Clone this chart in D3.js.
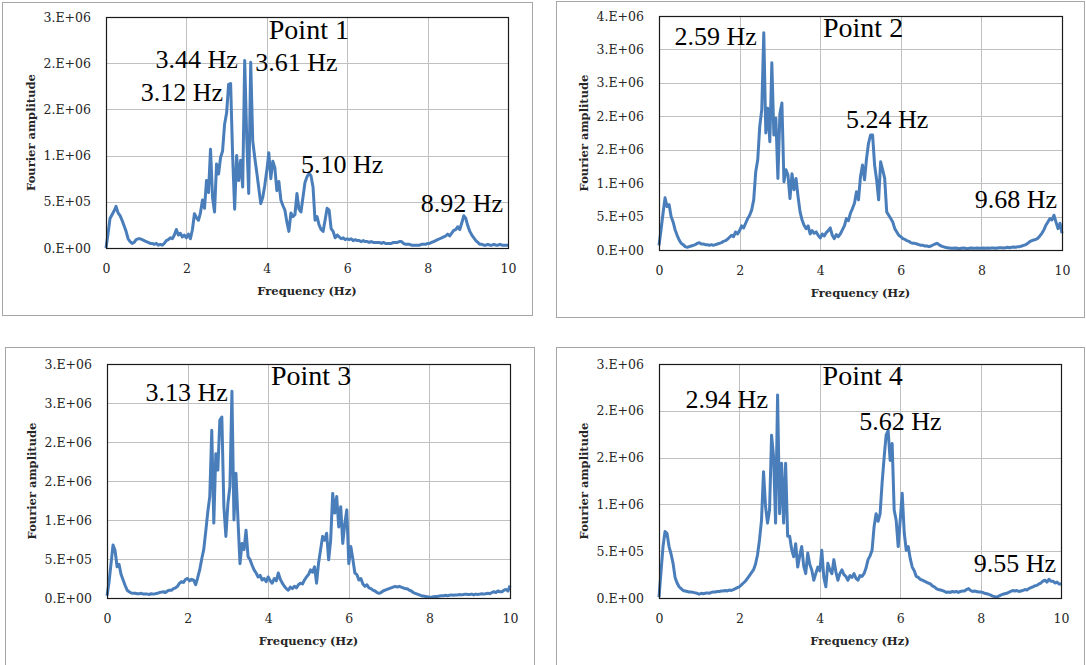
<!DOCTYPE html>
<html><head><meta charset="utf-8">
<script src="https://cdn.jsdelivr.net/npm/d3@7"></script>
<style>
body{margin:0;background:#fff;} svg{display:block}
.tk{font-family:"DejaVu Serif","Liberation Serif",serif;}
.tt{font-family:"DejaVu Serif","Liberation Serif",serif;font-weight:bold;}
.an{font-family:"Liberation Serif","Times New Roman",Tinos,"DejaVu Serif",serif;}
</style>
</head><body><svg id="c" width="1086" height="665"></svg>
<script>
// ---------- DATA ----------
const FREQ_STEP = 0.05;           // Hz between samples (0 .. 10 Hz, 201 samples)
const AMP_UNIT = 1e5;             // amplitudes below are in units of 1e5
const xTicks = [0, 2, 4, 6, 8, 10];
const xTickLabels = ["0", "2", "4", "6", "8", "10"];

const amp1 = [
 0,1.5,3.2,3.6,4.0,4.5,3.8,3.5,3.0,2.4, 1.8,1.0,0.7,0.5,0.6,0.9,1.0,1.0,0.9,0.8,
 0.7,0.6,0.5,0.5,0.4,0.5,0.3,0.4,0.3,0.5, 0.8,0.9,1.1,1.0,1.4,2.0,1.4,1.6,1.2,1.4,
 1.1,1.5,1.0,2.0,3.7,3.3,3.0,3.8,5.2,4.3, 7.3,6.0,10.7,5.5,3.9,9.1,8.0,9.8,10.5,13.4,
 14.6,17.7,17.8,10.0,4.2,10.0,7.3,9.5,6.6,20.3, 12.0,5.9,20.1,11.6,9.8,8.2,6.5,4.8,5.5,6.8,
 8.4,10.3,7.5,9.4,8.7,6.2,7.2,5.2,4.6,4.1, 2.8,1.8,3.8,3.4,3.6,5.9,4.2,3.9,5.5,7.1,
 7.7,8.1,7.8,6.6,3.0,3.4,2.5,2.0,1.8,3.0, 4.3,4.1,2.1,1.8,1.1,1.4,1.2,1.0,1.1,0.9,
 1.0,0.9,1.0,0.8,0.9,0.8,0.8,0.7,0.8,0.7, 0.7,0.6,0.7,0.6,0.6,0.6,0.6,0.5,0.6,0.5,
 0.5,0.5,0.5,0.6,0.6,0.6,0.7,0.7,0.5,0.4, 0.4,0.4,0.3,0.3,0.3,0.3,0.3,0.4,0.4,0.4,
 0.5,0.5,0.6,0.7,0.8,0.9,1.0,1.1,1.2,1.3, 1.5,1.3,1.6,1.9,2.0,2.3,2.0,2.7,3.5,3.2,
 2.4,1.8,1.4,1.1,0.8,0.6,0.4,0.4,0.3,0.3, 0.4,0.3,0.3,0.4,0.3,0.3,0.4,0.3,0.3,0.3,
 0.3];

const amp2 = [
 0.7,3.0,5.5,7.8,6.5,6.8,5.0,4.2,3.0,2.2, 1.5,1.0,0.8,0.5,0.4,0.5,0.6,0.7,0.8,1.0,
 1.1,0.9,0.9,0.8,0.8,0.7,0.8,0.7,0.8,0.9, 1.0,1.1,1.3,1.4,1.6,1.9,2.2,2.0,2.7,2.4,
 2.9,3.6,3.3,4.0,4.7,5.2,6.0,7.5,11.7,13.5, 18.5,21.0,32.5,17.5,21.2,16.2,28.0,17.2,19.7,10.7,
 20.4,22.0,10.2,12.0,11.2,7.7,11.4,9.0,10.7,8.0, 5.7,4.5,3.7,3.2,3.6,2.4,2.9,2.5,2.7,2.2,
 1.8,2.4,2.1,2.6,2.9,3.3,2.2,1.7,2.3,2.0, 2.4,3.0,3.6,4.7,4.4,5.5,6.2,7.0,8.7,7.5,
 11.0,12.7,10.5,13.7,16.0,17.2,17.2,12.7,10.5,7.5, 13.2,12.0,10.7,5.7,5.2,4.7,4.2,3.2,2.7,2.2,
 2.0,1.7,1.6,1.4,1.3,1.1,1.0,1.0,0.9,0.8, 0.7,0.7,0.6,0.6,0.5,0.6,0.75,0.9,1.0,0.8,
 0.6,0.5,0.4,0.35,0.3,0.25,0.25,0.3,0.25,0.2, 0.25,0.3,0.25,0.2,0.25,0.3,0.25,0.25,0.3,0.25,
 0.25,0.3,0.25,0.3,0.25,0.3,0.3,0.25,0.3,0.35, 0.35,0.3,0.35,0.4,0.35,0.4,0.45,0.4,0.5,0.5,
 0.6,0.7,0.8,1.0,1.25,1.4,1.5,1.6,1.75,2.1, 2.5,3.0,3.7,4.2,4.7,4.5,5.2,4.2,3.2,4.0,
 2.5];

const amp3 = [
 0.3,2.0,4.4,6.8,6.1,4.0,4.3,3.0,2.3,1.6, 1.0,0.8,0.65,0.6,0.6,0.55,0.55,0.6,0.5,0.5,
 0.5,0.45,0.55,0.5,0.55,0.6,0.7,0.75,0.8,0.7, 0.9,1.0,1.0,1.2,1.3,1.5,1.9,2.1,2.0,2.4,
 2.5,2.2,2.4,2.3,1.7,2.6,3.6,5.0,6.2,8.5, 11.0,13.0,21.5,9.6,18.5,16.4,22.8,23.2,11.7,7.9,
 12.1,14.3,26.5,10.0,16.0,10.0,4.4,7.0,6.2,8.7, 5.3,4.9,4.2,3.6,3.2,2.7,2.9,2.3,2.5,2.1,
 2.7,2.2,1.9,2.5,2.2,3.2,2.4,1.9,1.5,1.2, 1.0,1.4,1.2,1.5,1.3,1.7,1.9,1.8,2.3,2.7,
 3.0,3.6,3.3,4.0,1.9,4.5,6.2,7.9,7.4,8.3, 4.9,7.4,13.4,10.9,13.0,9.1,11.7,7.0,9.5,11.3,
 4.4,6.6,5.0,3.2,3.0,2.3,2.5,1.8,1.5,1.7, 1.3,1.2,1.0,0.9,0.7,0.6,0.7,0.9,1.0,1.1,
 1.2,1.3,1.4,1.5,1.4,1.5,1.4,1.3,1.2,1.2, 1.0,0.9,0.7,0.6,0.5,0.4,0.3,0.25,0.2,0.15,
 0.1,0.1,0.15,0.2,0.2,0.25,0.3,0.3,0.35,0.3, 0.35,0.4,0.35,0.4,0.4,0.45,0.4,0.45,0.5,0.45,
 0.45,0.5,0.4,0.5,0.45,0.5,0.55,0.5,0.55,0.6, 0.55,0.7,0.8,0.7,0.9,0.8,0.8,1.0,1.1,0.9,
 1.6];

const amp4 = [
 0.1,2.8,5.5,7.1,6.9,5.5,4.7,3.7,2.2,1.6, 1.2,1.0,0.8,0.75,0.7,0.65,0.65,0.6,0.55,0.5,
 0.4,0.5,0.45,0.5,0.55,0.5,0.6,0.65,0.65,0.7, 0.7,0.75,0.75,0.8,0.75,0.85,0.8,0.9,1.0,1.1,
 1.2,1.4,1.6,1.8,2.1,2.4,2.7,3.0,3.6,4.6, 6.2,8.3,13.5,9.8,8.0,9.4,17.4,15.1,8.0,21.7,
 9.0,14.4,8.0,14.4,6.6,6.6,5.2,4.4,5.8,3.3, 4.5,5.5,3.4,2.6,4.8,3.6,3.0,1.9,2.6,3.3,
 2.9,5.1,2.2,1.2,3.7,3.0,2.6,4.1,2.8,1.9, 2.6,3.0,2.5,2.3,1.9,2.4,2.2,2.6,2.1,1.9,
 2.4,2.3,2.6,3.2,4.1,4.5,5.1,7.6,9.0,8.2, 9.0,12.3,15.0,17.4,17.9,14.7,16.5,9.4,8.3,5.5,
 8.3,11.2,7.0,5.1,5.5,4.2,3.3,2.9,2.3,2.2, 2.0,1.9,1.8,1.7,1.6,1.5,1.3,1.2,1.0,0.9,
 0.85,0.8,0.7,0.6,0.65,0.6,0.7,0.65,0.7,0.6, 0.7,0.75,0.75,0.9,1.0,0.8,0.7,0.75,0.7,0.65,
 0.65,0.6,0.5,0.45,0.4,0.3,0.2,0.15,0.1,0.2, 0.3,0.4,0.45,0.5,0.6,0.7,0.8,0.75,0.8,0.7,
 0.75,0.8,0.9,0.85,1.0,1.1,1.2,1.3,1.35,1.5, 1.6,1.8,1.9,1.7,2.0,1.8,1.8,1.6,1.7,1.5,
 1.5];

const yTicks25 = [0, 5e5, 1e6, 1.5e6, 2e6, 2.5e6];
const yLabels25 = ["0.E+00","5.E+05","1.E+06","2.E+06","2.E+06","3.E+06"];
const yTicks35 = [0, 5e5, 1e6, 1.5e6, 2e6, 2.5e6, 3e6, 3.5e6];
const yLabels35 = ["0.E+00","5.E+05","1.E+06","2.E+06","2.E+06","3.E+06","3.E+06","4.E+06"];
const yTicks30 = [0, 5e5, 1e6, 1.5e6, 2e6, 2.5e6, 3e6];
const yLabels30 = ["0.E+00","5.E+05","1.E+06","2.E+06","2.E+06","3.E+06","3.E+06"];

const pointNames = ["Point 1", "Point 2", "Point 3", "Point 4"];
const peakTexts1 = ["3.44 Hz", "3.61 Hz", "3.12 Hz", "5.10 Hz", "8.92 Hz"];
const peakTexts2 = ["2.59 Hz", "5.24 Hz", "9.68 Hz"];
const peakTexts3 = ["3.13 Hz"];
const peakTexts4 = ["2.94 Hz", "5.62 Hz", "9.55 Hz"];
const xTitle = "Frequency (Hz)";
const yTitle = "Fourier amplitude";

// ---------- LAYOUT (positions / sizes, kept apart from data) ----------
const panels = [
  { frame:[2,2,532,315],   plot:[106,17,508,248],  amps:amp1, yTicks:yTicks25, yLabels:yLabels25, name:pointNames[0],
    namePos:[4.05,2.26e6],
    peaks:[[peakTexts1[0],3.28,1.95e6,"end"],[peakTexts1[1],3.71,1.92e6,"start"],[peakTexts1[2],2.91,1.59e6,"end"],
           [peakTexts1[3],4.85,0.81e6,"start"],[peakTexts1[4],9.88,0.39e6,"end"]] },
  { frame:[556,1,1084,317], plot:[659,16,1062,250], amps:amp2, yTicks:yTicks35, yLabels:yLabels35, name:pointNames[1],
    namePos:[4.07,3.18e6],
    peaks:[[peakTexts2[0],2.43,3.06e6,"end"],[peakTexts2[1],4.64,1.82e6,"start"],[peakTexts2[2],9.88,0.63e6,"end"]] },
  { frame:[5,347,534,700], plot:[107,364,510,598], amps:amp3, yTicks:yTicks30, yLabels:yLabels30, name:pointNames[2],
    namePos:[4.07,2.73e6],
    peaks:[[peakTexts3[0],3.0,2.53e6,"end"]] },
  { frame:[556,347,1084,700], plot:[659,364,1061,598], amps:amp4, yTicks:yTicks25, yLabels:yLabels25, name:pointNames[3],
    namePos:[4.07,2.28e6],
    peaks:[[peakTexts4[0],2.71,2.03e6,"end"],[peakTexts4[1],4.98,1.79e6,"start"],[peakTexts4[2],9.88,0.28e6,"end"]] }
];

const svg = d3.select("#c");

panels.forEach(p => {
  const [fx0, fy0, fx1, fy1] = p.frame;
  const [l, t, r, b] = p.plot;
  const yMax = p.yTicks[p.yTicks.length - 1];
  const x = d3.scaleLinear().domain([0, 10]).range([l, r]);
  const y = d3.scaleLinear().domain([0, yMax]).range([b, t]);
  const g = svg.append("g");

  g.append("rect").attr("x", fx0 + 0.5).attr("y", fy0 + 0.5)
    .attr("width", fx1 - fx0).attr("height", fy1 - fy0)
    .attr("fill", "#fff").attr("stroke", "#a6a6a6").attr("stroke-width", 1);

  // grid
  g.append("g").selectAll("line").data(p.yTicks.slice(1, -1)).join("line")
    .attr("x1", l).attr("x2", r).attr("y1", d => Math.round(y(d)) + 0.5).attr("y2", d => Math.round(y(d)) + 0.5)
    .attr("stroke", "#c0c0c0").attr("stroke-width", 1);
  g.append("g").selectAll("line").data(xTicks.slice(1, -1)).join("line")
    .attr("y1", t).attr("y2", b).attr("x1", d => Math.round(x(d)) + 0.5).attr("x2", d => Math.round(x(d)) + 0.5)
    .attr("stroke", "#c0c0c0").attr("stroke-width", 1);

  // axes via d3
  const yAxis = d3.axisLeft(y).tickValues(p.yTicks).tickSize(0).tickPadding(15)
    .tickFormat((d, i) => p.yLabels[i]);
  const ya = g.append("g").attr("transform", `translate(${l},0)`).call(yAxis);
  ya.attr("font-family", null).attr("font-size", null);
  ya.select(".domain").remove();
  ya.selectAll("text").attr("class", "tk").style("font-size", "12.5px").attr("fill", "#262626");

  const xAxis = d3.axisBottom(x).tickValues(xTicks).tickSize(0).tickPadding(16)
    .tickFormat((d, i) => xTickLabels[i]);
  const xa = g.append("g").attr("transform", `translate(0,${b})`).call(xAxis);
  xa.attr("font-family", null).attr("font-size", null);
  xa.select(".domain").remove();
  xa.selectAll("text").attr("class", "tk").style("font-size", "12.5px").attr("fill", "#262626");

  // series line
  const line = d3.line()
    .x((d, i) => x(i * FREQ_STEP))
    .y(d => y(d * AMP_UNIT));
  g.append("path").datum(p.amps).attr("d", line)
    .attr("fill", "none").attr("stroke", "#4a7ebb").attr("stroke-width", 3)
    .attr("stroke-linejoin", "round");

  // plot border
  g.append("rect").attr("x", l + 0.5).attr("y", t + 0.5).attr("width", r - l).attr("height", b - t)
    .attr("fill", "none").attr("stroke", "#1a1a1a").attr("stroke-width", 1.2);

  // axis titles
  g.append("text").attr("class", "tt").attr("x", (l + r) / 2).attr("y", b + 47).attr("text-anchor", "middle")
    .style("font-size", "11.5px").attr("fill", "#262626").text(xTitle);
  g.append("text").attr("class", "tt").attr("transform", `translate(${l - 71},${(t + b) / 2}) rotate(-90)`)
    .attr("text-anchor", "middle").style("font-size", "11.5px").attr("fill", "#262626").text(yTitle);

  // point name
  g.append("text").attr("class", "an").attr("x", x(p.namePos[0])).attr("y", y(p.namePos[1]))
    .style("font-size", "28px").attr("fill", "#000").text(p.name);

  // peak annotations
  p.peaks.forEach(([txt, f, a, anchor]) => {
    g.append("text").attr("class", "an").attr("x", x(f)).attr("y", y(a)).attr("text-anchor", anchor)
      .style("font-size", "26px").attr("fill", "#000").text(txt);
  });
});
</script>
</body></html>
